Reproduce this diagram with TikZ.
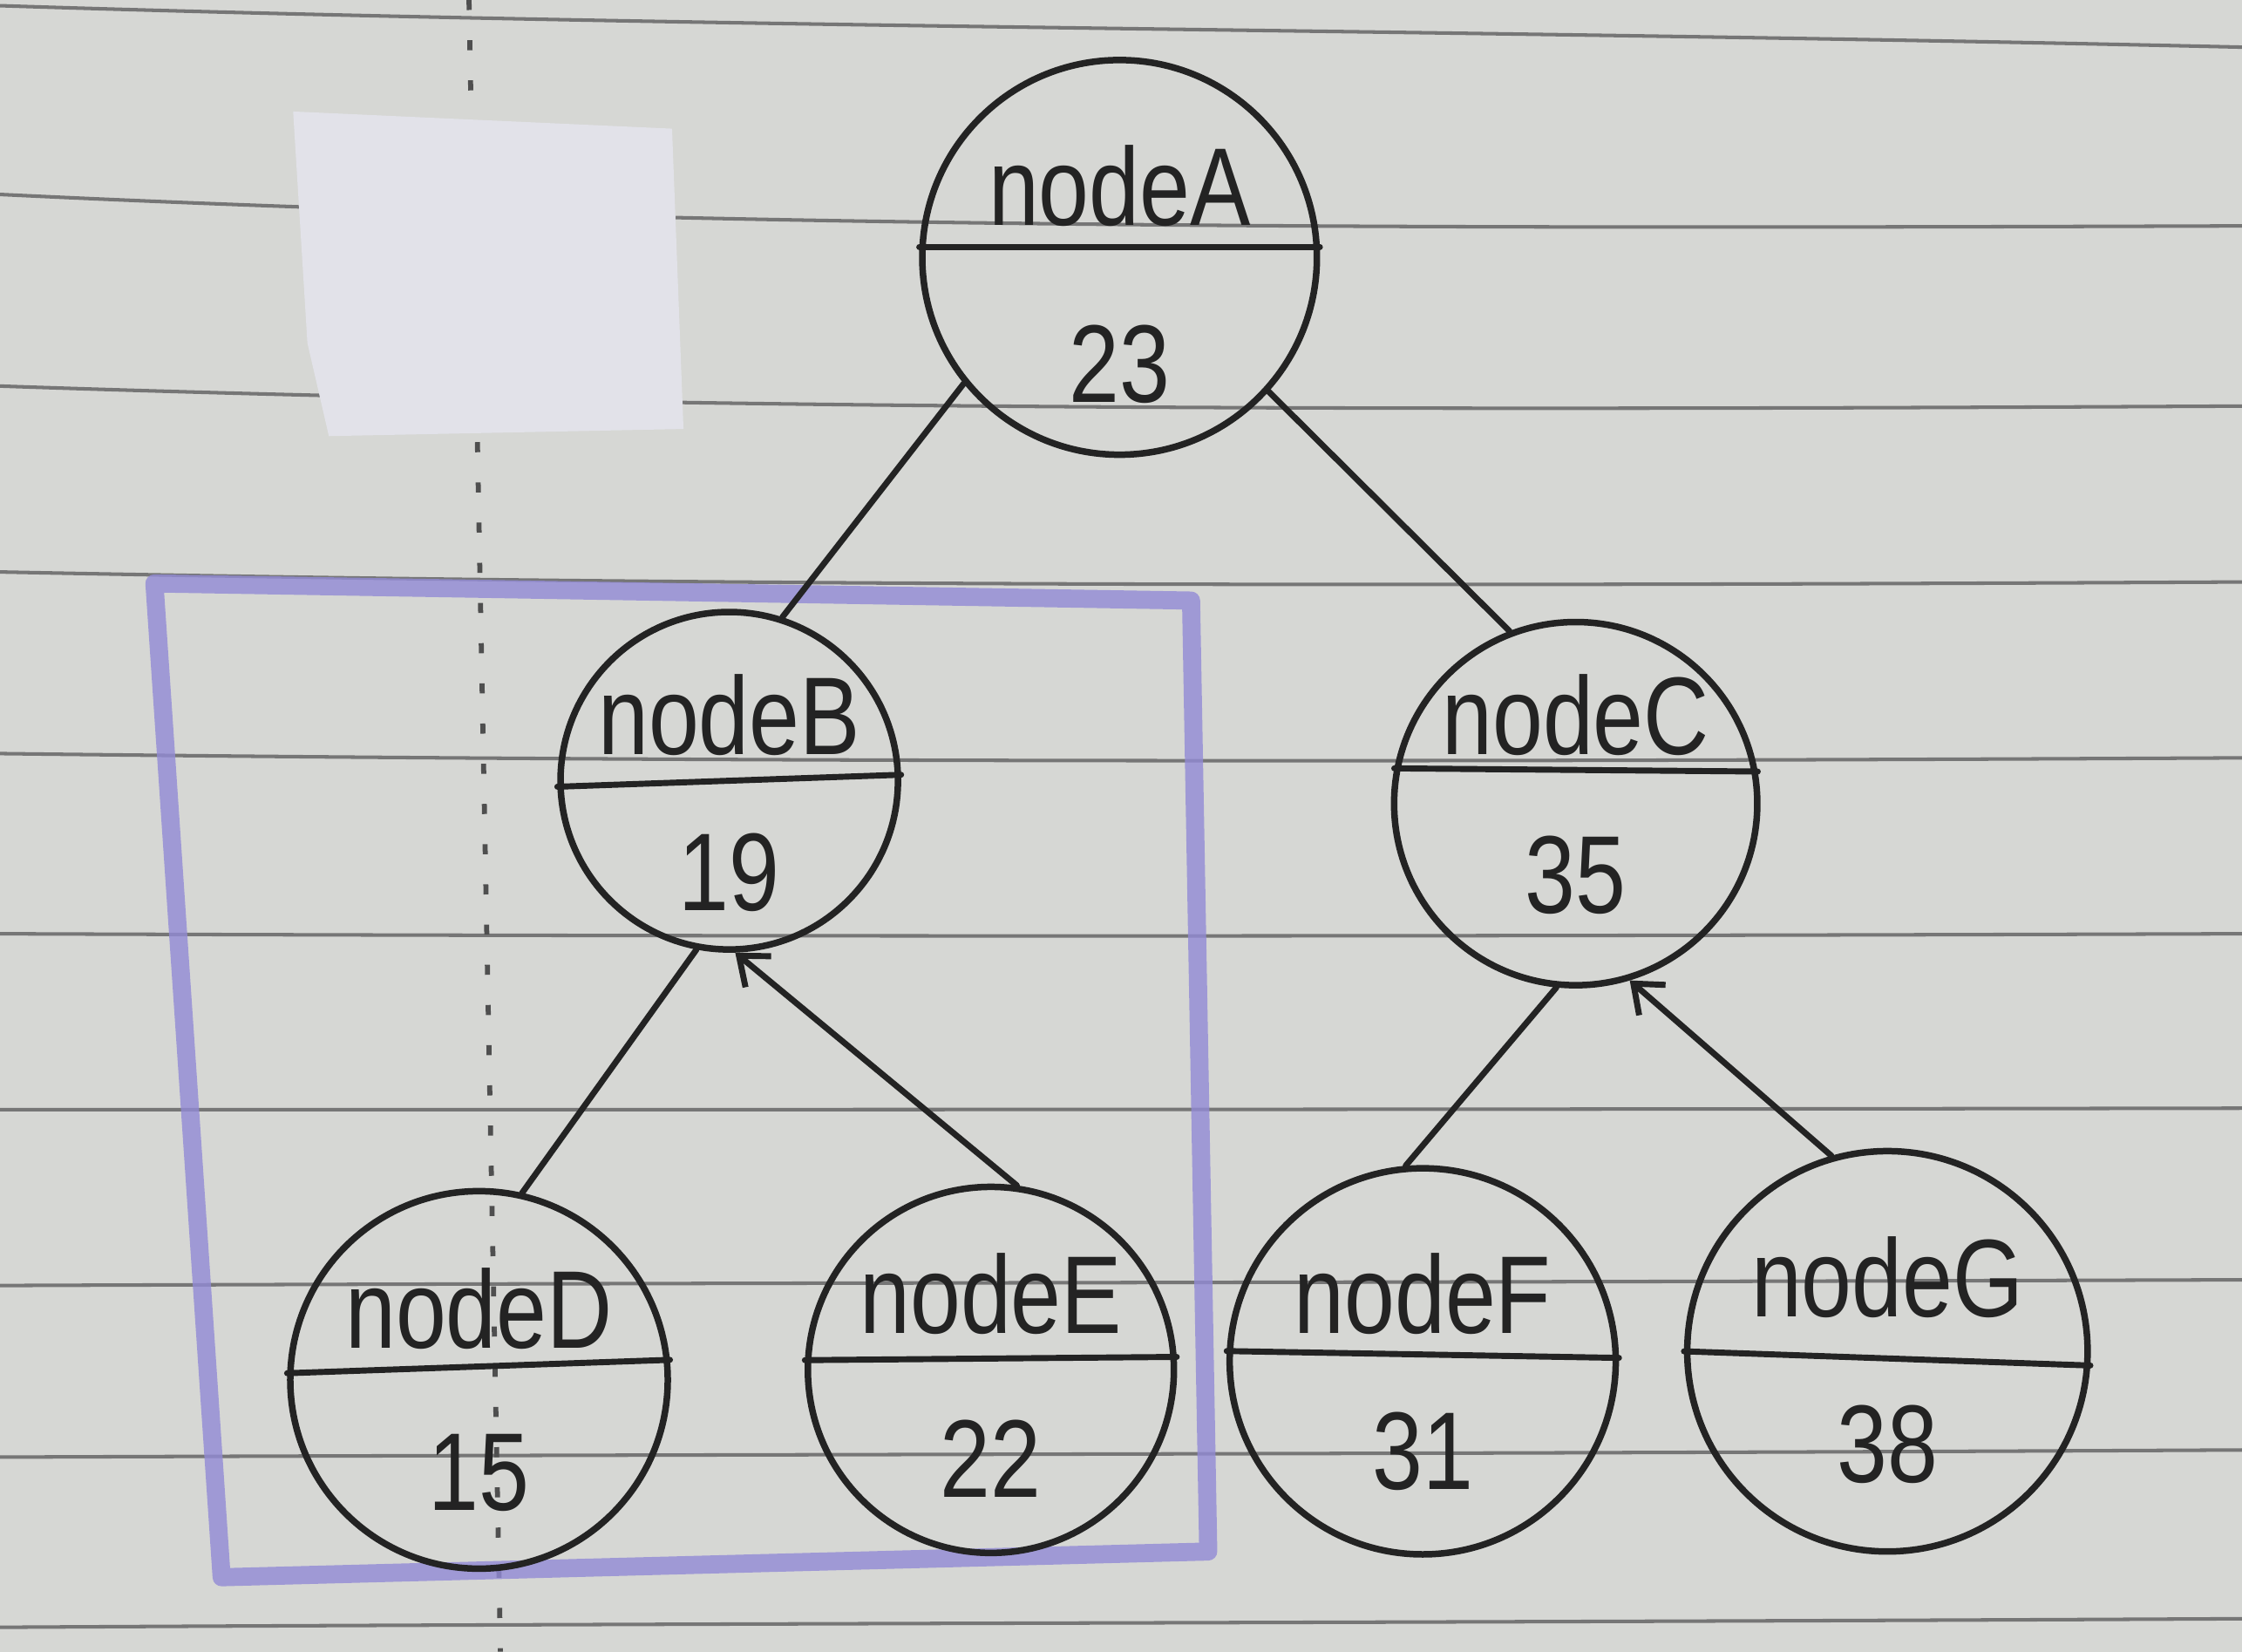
\documentclass[tikz,border=0pt]{standalone}
\usepackage{fontspec}
\usepackage{xcolor}
\usepackage{tikz}
\usetikzlibrary{positioning,arrows.meta}
\newfontfamily\handfont[FakeStretch=0.82]{Liberation Sans}
\definecolor{paper}{RGB}{214,215,212}
\definecolor{rulegray}{RGB}{118,118,118}
\definecolor{tapecolor}{RGB}{226,226,233}
\definecolor{inkcolor}{RGB}{35,35,35}
\definecolor{markerpurple}{RGB}{146,138,214}

\begin{document}
\begin{tikzpicture}[
  treenode/.style={circle, draw=inkcolor, line width=1.3pt, inner sep=0pt},
  edge/.style={draw=inkcolor, line width=1.2pt, line cap=round},
  lbl/.style={font=\handfont\fontsize{22}{24}\selectfont, text=inkcolor, inner sep=0pt},
  ruled/.style={rulegray, line width=0.7pt},
]
  \useasboundingbox (0,0) rectangle (15.68,11.55);

  % Paper
  \fill[paper] (0,0) rectangle (15.68,11.55);
  \foreach \yl/\ym/\yr in {11.51/11.35/11.22, 10.19/9.95/9.97, 8.85/8.68/8.71,
      7.55/7.45/7.48, 6.28/6.22/6.25, 5.02/5.00/5.02, 3.79/3.79/3.80,
      2.56/2.58/2.60, 1.36/1.38/1.41, 0.17/0.20/0.23}
    \draw[ruled] (0,\yl) .. controls (5,\ym) and (10,\ym) .. (15.68,\yr);
  \draw[inkcolor!80, line width=1pt, dash pattern=on 2pt off 6pt] (3.28,11.55) -- (3.50,0);
  \fill[tapecolor] (2.05,10.77) -- (4.70,10.65) -- (4.78,8.55) -- (2.30,8.50) -- (2.15,9.15) -- cycle;

  % Marker box round the left subtree
  \draw[markerpurple, opacity=0.8, line width=3.6pt, line join=round]
    (1.08,7.47) -- (8.33,7.35) -- (8.45,0.70) -- (1.55,0.52) -- cycle;

  % Nodes
  \node[treenode, minimum size=2.76cm] (A) at (7.83,9.75) {};
  \node[treenode, minimum size=2.36cm] (B) at (5.10,6.09) {};
  \node[treenode, minimum size=2.54cm] (C) at (11.02,5.93) {};
  \node[treenode, minimum size=2.64cm] (D) at (3.35,1.90) {};
  \node[treenode, minimum size=2.56cm] (E) at (6.93,1.97) {};
  \node[treenode, minimum size=2.70cm] (F) at (9.95,2.03) {};
  \node[treenode, minimum size=2.80cm] (G) at (13.20,2.10) {};

  % Dividers
  \draw[edge] (A.177) -- (A.3);
  \draw[edge] (B.182) -- (B.2);
  \draw[edge] (C.169) -- (C.10);
  \draw[edge] (D.178) -- (D.6);
  \draw[edge] (E.177) -- (E.4);
  \draw[edge] (F.177) -- (F.1);
  \draw[edge] (G.180) -- (G.356);

  % Names and values
  \node[lbl] (Aname) at ([yshift=5mm]A.center) {nodeA};
  \node[lbl] (Aval) at ([yshift=-7.5mm]A.center) {23};
  \node[lbl] (Bname) at ([yshift=4.6mm]B.center) {nodeB};
  \node[lbl] (Bval) at ([yshift=-6.4mm]B.center) {19};
  \node[lbl] (Cname) at ([yshift=6.2mm]C.center) {nodeC};
  \node[lbl] (Cval) at ([yshift=-5mm]C.center) {35};
  \node[lbl] (Dname) at ([yshift=5mm]D.center) {nodeD};
  \node[lbl] (Dval) at ([yshift=-6.5mm]D.center) {15};
  \node[lbl] (Ename) at ([yshift=5.3mm]E.center) {nodeE};
  \node[lbl] (Eval) at ([yshift=-6.2mm]E.center) {22};
  \node[lbl] (Fname) at ([yshift=4.7mm]F.center) {nodeF};
  \node[lbl] (Fval) at ([yshift=-6.3mm]F.center) {31};
  \node[lbl] (Gname) at ([yshift=5.2mm]G.center) {nodeG};
  \node[lbl] (Gval) at ([yshift=-6.5mm]G.center) {38};

  % Edges
  \draw[edge] (A.219) -- (B.72);
  \draw[edge] (A.318) -- (C.111);
  \draw[edge] (B.259) -- (D.77);
  \draw[edge, -{Straight Barb[length=5pt,width=8pt]}] (E.82) -- (B.272);
  \draw[edge] (C.264) -- (F.95);
  \draw[edge, -{Straight Barb[length=5pt,width=8pt]}] (G.106) -- (C.287);
\end{tikzpicture}
\end{document}
